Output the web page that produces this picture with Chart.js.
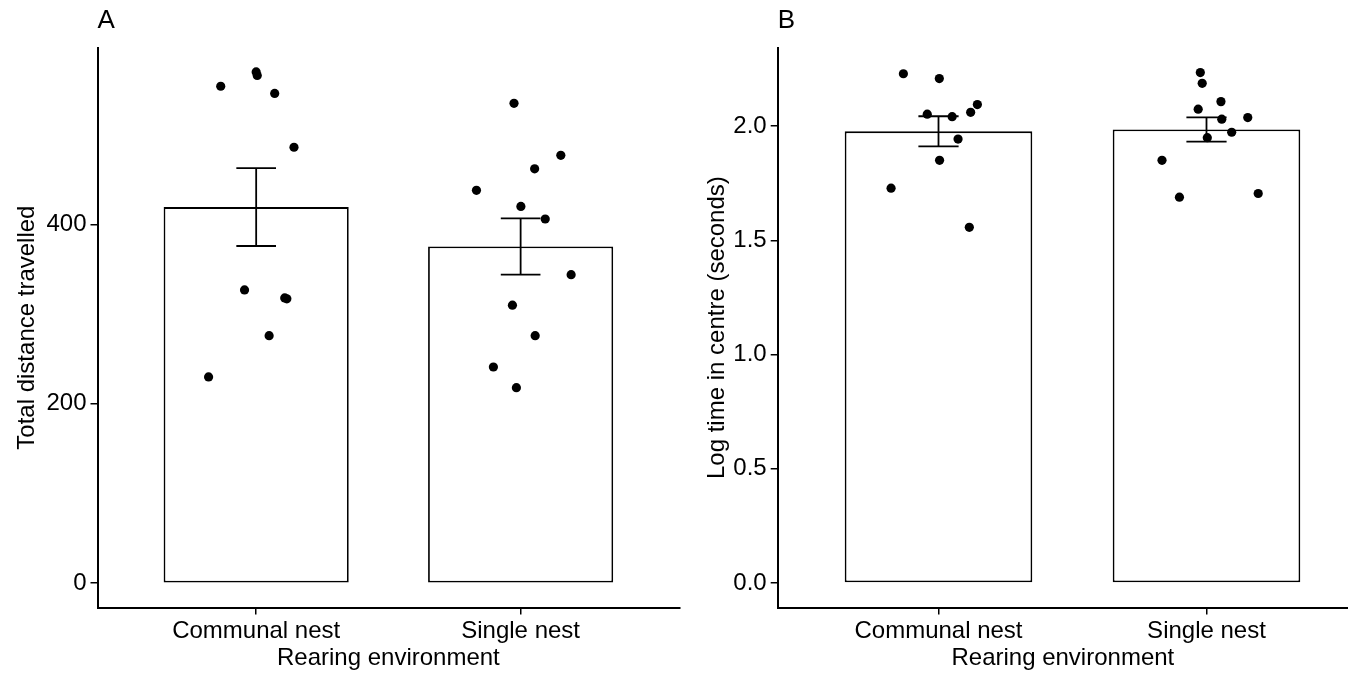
<!DOCTYPE html>
<html>
<head>
<meta charset="utf-8">
<script src="https://cdn.jsdelivr.net/npm/chart.js@4.4.1/dist/chart.umd.min.js"></script>
<style>
  body { margin: 0; background: #fff; }
  #wrap { position: relative; width: 1348px; height: 673px; overflow: hidden; }
  canvas { position: absolute; top: 0; }
</style>
</head>
<body>
<div id="wrap">
  <canvas id="panelA" width="690" height="673" style="left:0px"></canvas>
  <canvas id="panelB" width="658" height="673" style="left:690px"></canvas>
</div>
<script>
// categories on the x axis
const categories = ['Communal nest', 'Single nest'];

// panel A: total distance travelled
const distMean = [419.3, 375.4];
const distSE = [43.4, 31.3];
const communalDist = [570, 566, 554, 546, 486, 327, 318, 317, 276, 230];
const communalDistJitter = [0.0, 0.004, -0.134, 0.07, 0.143, -0.044, 0.108, 0.116, 0.049, -0.18];
const singleDist = [535, 477, 462, 438, 420, 406, 344, 310, 276, 241, 218];
const singleDistJitter = [-0.025, 0.152, 0.053, -0.167, 0.001, 0.093, 0.191, -0.031, 0.055, -0.103, -0.016];
const distTicks = [0, 200, 400];
const distTickLabels = ['0', '200', '400'];

// panel B: log time in centre
const logMean = [1.977, 1.985];
const logSE = [0.066, 0.053];
const communalLog = [2.229, 2.208, 2.094, 2.060, 2.052, 2.041, 1.943, 1.850, 1.728, 1.557];
const communalLogJitter = [-0.131, 0.003, 0.145, 0.120, -0.042, 0.051, 0.073, 0.004, -0.177, 0.115];
const singleLog = [2.234, 2.187, 2.107, 2.074, 2.030, 2.037, 1.973, 1.949, 1.850, 1.689, 1.705];
const singleLogJitter = [-0.023, -0.016, 0.054, -0.031, 0.057, 0.154, 0.094, 0.003, -0.166, -0.101, 0.193];
const logTicks = [0, 0.5, 1, 1.5, 2];
const logTickLabels = ['0.0', '0.5', '1.0', '1.5', '2.0'];

const FONT = '"Liberation Sans", Arial, Helvetica, sans-serif';
const CAP = 0.075; // half width of error bar caps, in category units

const panelLetter = {
  id: 'panelLetter',
  afterDraw(chart, args, opts) {
    const { ctx, chartArea } = chart;
    ctx.save();
    ctx.font = '26px ' + FONT;
    ctx.fillStyle = '#000';
    ctx.textBaseline = 'middle';
    ctx.fillText(opts.text, chartArea.left, 21);
    ctx.restore();
  }
};

const errorBarData = (means, ses) => {
  const pts = [];
  means.forEach((m, i) => {
    const lo = m - ses[i], hi = m + ses[i];
    pts.push({ x: i, y: lo }, { x: i, y: hi }, { x: i, y: null });
    pts.push({ x: i - CAP, y: hi }, { x: i + CAP, y: hi }, { x: i, y: null });
    pts.push({ x: i - CAP, y: lo }, { x: i + CAP, y: lo }, { x: i, y: null });
  });
  return pts;
};

const jittered = (values, jitter, idx) => values.map((v, k) => ({ x: idx + jitter[k], y: v }));

const makePanel = (id, p) => {
  new Chart(document.getElementById(id), {
    type: 'bar',
    data: {
      datasets: [
        {
          type: 'scatter',
          data: jittered(p.groups[0].values, p.groups[0].jitter, 0)
            .concat(jittered(p.groups[1].values, p.groups[1].jitter, 1)),
          backgroundColor: '#000',
          borderWidth: 0,
          pointRadius: 4.6,
          order: 1
        },
        {
          type: 'line',
          data: errorBarData(p.means, p.ses),
          borderColor: '#000',
          borderWidth: 1.8,
          pointRadius: 0,
          spanGaps: false,
          fill: false,
          order: 2
        },
        {
          type: 'bar',
          data: p.means.map((m, i) => ({ x: i, y: m })),
          backgroundColor: '#fff',
          borderColor: '#000',
          borderWidth: 1.8,
          borderSkipped: false,
          categoryPercentage: 1,
          barPercentage: 0.7,
          order: 3
        }
      ]
    },
    options: {
      responsive: false,
      animation: false,
      events: [],
      layout: { autoPadding: false, padding: { left: 0, top: 47.7, right: p.padRight, bottom: 0 } },
      plugins: {
        legend: { display: false },
        tooltip: { enabled: false },
        panelLetter: { text: p.letter }
      },
      scales: {
        x: {
          type: 'linear',
          min: -0.6,
          max: p.xMax,
          offset: false,
          afterBuildTicks: (s) => { s.ticks = categories.map((c, i) => ({ value: i })); },
          afterFit: (s) => { s.height = 65.5; },
          ticks: {
            callback: (v) => categories[v],
            color: '#000',
            font: { family: FONT, size: 24 },
            padding: 2,
            maxRotation: 0,
            autoSkip: false
          },
          grid: { offset: false, drawOnChartArea: false, color: '#000', lineWidth: 1.5, tickLength: 7 },
          border: { display: true, color: '#000', width: 2 },
          title: {
            display: true,
            text: 'Rearing environment',
            color: '#000',
            font: { family: FONT, size: 24 },
            padding: { top: 0, bottom: 0 }
          }
        },
        y: {
          min: p.yMin,
          max: p.yMax,
          afterBuildTicks: (s) => { s.ticks = p.yTicks.map((v) => ({ value: v })); },
          afterFit: (s) => { s.width = p.yAxisWidth; },
          ticks: {
            callback: (v) => p.yTickLabels[p.yTicks.indexOf(v)],
            color: '#000',
            font: { family: FONT, size: 24 },
            padding: 4
          },
          grid: { offset: false, drawOnChartArea: false, color: '#000', lineWidth: 1.5, tickLength: 7 },
          border: { display: true, color: '#000', width: 2 },
          title: {
            display: true,
            text: p.yTitle,
            color: '#000',
            font: { family: FONT, size: 24 },
            padding: { top: 13, bottom: 0 }
          }
        }
      }
    },
    plugins: [panelLetter]
  });
};

makePanel('panelA', {
  letter: 'A',
  means: distMean,
  ses: distSE,
  groups: [
    { values: communalDist, jitter: communalDistJitter },
    { values: singleDist, jitter: singleDistJitter }
  ],
  yMin: -27.1,
  yMax: 597,
  yTicks: distTicks,
  yTickLabels: distTickLabels,
  yTitle: 'Total distance travelled',
  xMax: 1.6,
  padRight: 10.7,
  yAxisWidth: 97.5
});

makePanel('panelB', {
  letter: 'B',
  means: logMean,
  ses: logSE,
  groups: [
    { values: communalLog, jitter: communalLogJitter },
    { values: singleLog, jitter: singleLogJitter }
  ],
  yMin: -0.107,
  yMax: 2.343,
  yTicks: logTicks,
  yTickLabels: logTickLabels,
  yTitle: 'Log time in centre (seconds)',
  xMax: 1.528,
  padRight: 0,
  yAxisWidth: 87.7
});
</script>
</body>
</html>
